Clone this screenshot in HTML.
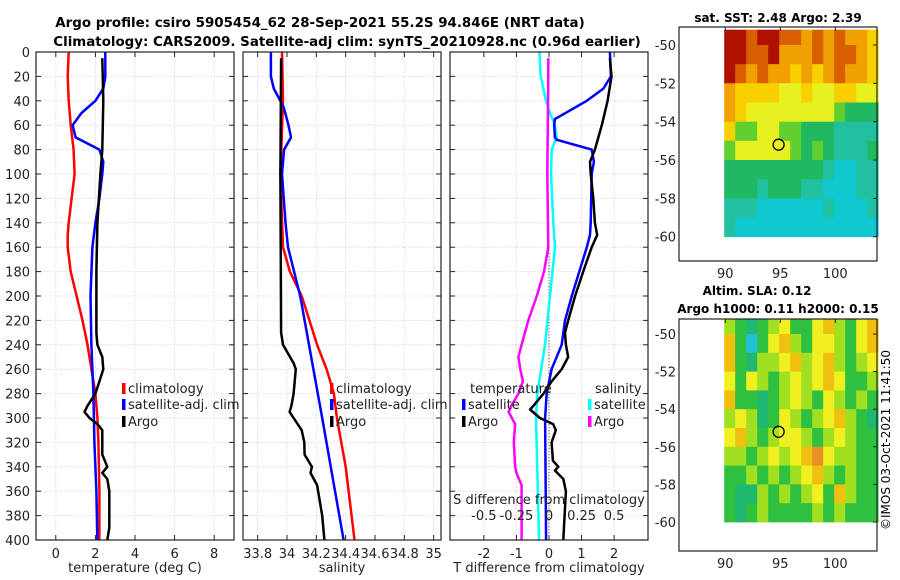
<!DOCTYPE html>
<html><head><meta charset="utf-8">
<style>
html,body{margin:0;padding:0;background:#fff;}
svg{display:block;font-family:"DejaVu Sans","Liberation Sans",sans-serif;}
</style></head>
<body>
<svg id="chart" width="900" height="580" viewBox="0 0 900 580" xmlns="http://www.w3.org/2000/svg">
<text x="320" y="27" text-anchor="middle" font-size="13.4" font-weight="bold">Argo profile: csiro 5905454_62 28-Sep-2021 55.2S 94.846E (NRT data)</text>
<text x="347" y="46" text-anchor="middle" font-size="13.4" font-weight="bold">Climatology: CARS2009. Satellite-adj clim: synTS_20210928.nc (0.96d earlier)</text>
<g id="layer"></g>
<text x="778" y="22" text-anchor="middle" font-size="12" font-weight="bold">sat. SST: 2.48 Argo: 2.39</text>
<text x="757" y="295" text-anchor="middle" font-size="12" font-weight="bold">Altim. SLA: 0.12</text>
<text x="778" y="313" text-anchor="middle" font-size="12" font-weight="bold">Argo h1000: 0.11 h2000: 0.15</text>
<text transform="translate(890,440) rotate(-90)" text-anchor="middle" font-size="12">©IMOS 03-Oct-2021 11:41:50</text>
</svg>
<script>
// ---------- data ----------
const depthTicks = [0,20,40,60,80,100,120,140,160,180,200,220,240,260,280,300,320,340,360,380,400];
const tempTicks = [0,2,4,6,8];
const salTicks = [33.8,34,34.2,34.4,34.6,34.8,35];
const salTickLabels = ["33.8","34","34.2","34.4","34.6","34.8","35"];
const tdiffTicks = [-2,-1,0,1,2];
const sdiffTicks = [-0.5,-0.25,0,0.25,0.5];
const sdiffTickLabels = ["-0.5","-0.25","0","0.25","0.5"];

const climTDepth = [0,20,40,60,80,100,120,140,150,160,180,200,220,240,260,280,300,320,360,400];
const climTVal   = [0.65,0.6,0.65,0.75,0.9,0.95,0.8,0.65,0.6,0.6,0.75,1.05,1.35,1.6,1.8,2.0,2.1,2.15,2.2,2.2];
const satTDepth = [0,20,30,40,50,60,70,80,90,100,120,140,160,200,240,280,320,360,400];
const satTVal   = [2.5,2.5,2.4,2.0,1.3,0.85,1.0,2.2,2.4,2.35,2.2,2.0,1.85,1.75,1.8,1.9,1.95,2.05,2.1];
const argoTDepth = [5,40,80,100,140,180,230,240,250,260,270,280,290,295,300,305,310,320,330,340,345,350,360,380,390,400];
const argoTVal   = [2.35,2.4,2.35,2.25,2.1,2.05,2.05,2.1,2.35,2.4,2.2,2.0,1.6,1.45,1.7,2.1,2.35,2.35,2.35,2.6,2.35,2.6,2.7,2.7,2.7,2.6];

const climSDepth = [0,40,100,160,180,200,240,260,280,300,340,400];
const climSVal   = [33.966,33.973,33.955,33.973,34.02,34.1,34.205,34.27,34.32,34.34,34.4,34.46];
const satSDepth = [0,20,30,45,60,70,80,100,140,160,200,300,400];
const satSVal   = [33.89,33.89,33.91,33.977,34.01,34.027,33.98,33.966,33.99,34.007,34.09,34.24,34.386];
const argoSDepth = [5,100,230,240,255,260,280,290,295,300,310,320,330,340,345,355,380,400];
const argoSVal   = [33.96,33.955,33.96,33.973,34.045,34.06,34.045,34.03,34.018,34.045,34.1,34.118,34.12,34.17,34.16,34.205,34.24,34.255];

const argoTdDepth = [5,20,40,60,80,90,100,120,140,150,160,180,200,220,230,240,250,260,270,280,290,293,300,305,310,320,335,340,343,350,360,400];
const argoTdVal   = [1.87,1.92,1.8,1.62,1.41,1.26,1.28,1.36,1.41,1.48,1.31,1.05,0.8,0.59,0.49,0.52,0.59,0.39,0.08,-0.17,-0.48,-0.58,-0.28,0.13,0.21,0.08,0.12,0.29,0.18,0.44,0.52,0.44];
const satTdDepth = [0,20,30,40,55,60,70,72,80,90,100,140,150,160,200,220,240,260,280,300,400];
const satTdVal   = [1.87,1.9,1.67,1.16,0.18,0.16,0.18,0.24,1.31,1.38,1.31,1.28,1.26,1.16,0.7,0.49,0.39,0.08,-0.07,-0.12,-0.09];
const satSdDepth = [0,20,40,50,60,70,80,100,140,160,200,240,280,300,400];
const satSdVal   = [-0.074,-0.064,-0.023,0.008,0.046,0.059,0.021,0.015,0.033,0.046,0.008,-0.031,-0.09,-0.10,-0.077];
const argoSdDepth = [5,20,100,160,180,200,220,240,250,260,270,280,290,295,305,320,340,345,355,400];
const argoSdVal   = [-0.005,-0.005,-0.013,-0.005,-0.038,-0.094,-0.159,-0.21,-0.235,-0.22,-0.2,-0.235,-0.29,-0.31,-0.26,-0.27,-0.26,-0.25,-0.21,-0.21];

const mapLons = [90,91,92,93,94,95,96,97,98,99,100,101,102,103];
const mapLats = [-49,-50,-51,-52,-53,-54,-55,-56,-57,-58,-59];
const lonTicks = [90,95,100];
const latTicks = [-50,-52,-54,-56,-58,-60];
const sstGrid = [
[10,10,9,10,10,9,9,8,9,8,9,8,8,7],
[10,10,9,9,10,8,8,8,9,8,9,9,8,7],
[10,9,8,9,8,8,7,8,7,8,9,8,8,7],
[8,7,7,7,7,6,6,7,6,6,7,7,6,6],
[8,7,6,6,6,6,6,6,6,6,5,4,4,4],
[7,5,5,6,6,5,5,4,4,4,3,3,3,3],
[5,6,6,6,6,6,5,4,5,4,3,3,3,4],
[4,4,4,4,4,4,4,4,4,3,2,2,3,3],
[4,4,4,3,4,4,4,3,3,2,2,2,3,3],
[3,3,3,2,2,2,2,2,2,3,2,2,2,3],
[3,2,2,2,2,2,2,2,2,2,2,2,2,2]];
const slaGrid = [
[5,4,3,4,5,6,4,4,6,7,5,4,6,7],
[7,4,2,4,6,7,5,4,6,6,5,4,6,7],
[7,4,3,5,5,6,7,5,6,7,5,4,5,6],
[6,4,6,5,4,5,6,5,6,7,6,4,4,5],
[7,4,4,3,4,5,6,5,4,6,5,4,5,4],
[5,6,5,3,4,6,5,4,5,6,7,5,4,3],
[6,7,5,4,5,6,6,5,4,5,6,5,4,4],
[5,5,4,5,6,5,6,7,8,6,5,5,4,4],
[4,4,5,4,5,4,5,6,7,5,4,5,4,4],
[4,3,3,5,4,5,4,5,6,4,7,5,4,4],
[4,3,4,5,4,4,4,4,5,4,5,4,4,4]];
const floatLon = 94.846, floatLat = -55.2;

// ---------- helpers ----------
const NS = "http://www.w3.org/2000/svg";
const layer = document.getElementById('layer');
function mk(tag, attrs, parent){const e=document.createElementNS(NS,tag);for(const k in attrs)e.setAttribute(k,attrs[k]);(parent||layer).appendChild(e);return e;}
const Y0=52, Y1=540;
const yD = d => Y0 + (d/400)*(Y1-Y0);
function lin(d0,d1,r0,r1){return v=>r0+(v-d0)/(d1-d0)*(r1-r0);}

function panel(name,x0,x1,xs,ticks,labels,showY){
  const g=mk('g',{});
  
  
  ticks.forEach(t=>{mk('line',{x1:xs(t),x2:xs(t),y1:Y0,y2:Y1,stroke:'#c5cbe6','stroke-width':0.8,'stroke-dasharray':'1,1.5'},g);});
  depthTicks.forEach(d=>{mk('line',{x1:x0,x2:x1,y1:yD(d),y2:yD(d),stroke:'#c5cbe6','stroke-width':0.8,'stroke-dasharray':'1,1.5'},g);
    mk('line',{x1:x0,x2:x0+5,y1:yD(d),y2:yD(d),stroke:'#222'},g);
    mk('line',{x1:x1-5,x2:x1,y1:yD(d),y2:yD(d),stroke:'#222'},g);
    if(showY){const t=mk('text',{x:x0-6,y:yD(d)+5,'text-anchor':'end','font-size':13,fill:'#222'},g);t.textContent=d;}
  });
  ticks.forEach((t,i)=>{mk('line',{x1:xs(t),x2:xs(t),y1:Y1,y2:Y1-5,stroke:'#222'},g);mk('line',{x1:xs(t),x2:xs(t),y1:Y0,y2:Y0+5,stroke:'#222'},g);
    if(labels){const tx=mk('text',{x:xs(t),y:Y1+18,'text-anchor':'middle','font-size':13,fill:'#222'},g);tx.textContent=labels[i];}});
  return g;
}
function line(name,g,xs,xv,dv,color,w){
  const p=xv.map((v,i)=>xs(v).toFixed(1)+','+yD(dv[i]).toFixed(1)).join(' ');
  const e=mk('polyline',{points:p,fill:'none',stroke:color,'stroke-width':w||2.5,'stroke-linejoin':'round'},g);
  
  
}
function legendEntry(name,g,x,y,color,label){
  const gg=mk('g',{},g);
  
  
  mk('rect',{x:x,y:y-10,width:3.5,height:11,fill:color},gg);
  const t=mk('text',{x:x+6,y:y,'font-size':13,fill:'#222'},gg);t.textContent=label;
}
function box(g,x0,x1,y0,y1){mk('rect',{x:x0,y:y0,width:x1-x0,height:y1-y0,fill:'none',stroke:'#222','stroke-width':1.2},g);}

// ---------- panel 1: temperature ----------
const xT = lin(-1,9,36,234);
const g1 = panel('temperature-panel',36,234,xT,tempTicks,tempTicks.map(String),true);
line('temp-climatology-line',g1,xT,climTVal,climTDepth,'#ff0000');
line('temp-satellite-line',g1,xT,satTVal,satTDepth,'#0000ff');
line('temp-argo-line',g1,xT,argoTVal,argoTDepth,'#000');
box(g1,36,234,Y0,Y1);
legendEntry('legend-climatology',g1,122,393,'#ff0000','climatology');
legendEntry('legend-satellite-adj',g1,122,409,'#0000ff','satellite-adj. clim');
legendEntry('legend-argo',g1,122,426,'#000','Argo');
let t1=mk('text',{x:135,y:572,'text-anchor':'middle','font-size':13,fill:'#222'},g1);t1.textContent='temperature (deg C)';


// ---------- panel 2: salinity ----------
const xS = lin(33.7,35.05,243,441);
const g2 = panel('salinity-panel',243,441,xS,salTicks,salTickLabels,false);
line('sal-climatology-line',g2,xS,climSVal,climSDepth,'#ff0000');
line('sal-satellite-line',g2,xS,satSVal,satSDepth,'#0000ff');
line('sal-argo-line',g2,xS,argoSVal,argoSDepth,'#000');
box(g2,243,441,Y0,Y1);
legendEntry('legend-climatology-sal',g2,330,393,'#ff0000','climatology');
legendEntry('legend-satellite-adj-sal',g2,330,409,'#0000ff','satellite-adj. clim');
legendEntry('legend-argo-sal',g2,330,426,'#000','Argo');
let t2=mk('text',{x:342,y:572,'text-anchor':'middle','font-size':13,fill:'#222'},g2);t2.textContent='salinity';


// ---------- panel 3: differences ----------
const xTd = lin(-3.04,3.04,450,648);
const xSd = lin(-0.76,0.76,450,648);
const g3 = panel('difference-panel',450,648,xTd,tdiffTicks,tdiffTicks.map(String),false);
mk('line',{x1:xTd(0),x2:xTd(0),y1:yD(160),y2:Y1,stroke:'#333','stroke-width':1,'stroke-dasharray':'1,2'},g3);
line('sdiff-satellite-line',g3,xSd,satSdVal,satSdDepth,'#00ffff');
line('sdiff-argo-line',g3,xSd,argoSdVal,argoSdDepth,'#ff00ff');
line('tdiff-satellite-line',g3,xTd,satTdVal,satTdDepth,'#0000ff');
line('tdiff-argo-line',g3,xTd,argoTdVal,argoTdDepth,'#000');
box(g3,450,648,Y0,Y1);
let th=mk('text',{x:470,y:393,'font-size':13,fill:'#222'},g3);th.textContent='temperature';

let sh=mk('text',{x:595,y:393,'font-size':13,fill:'#222'},g3);sh.textContent='salinity';

legendEntry('legend-tdiff-satellite',g3,462,409,'#0000ff','satellite');
legendEntry('legend-tdiff-argo',g3,462,426,'#000','Argo');
legendEntry('legend-sdiff-satellite',g3,588,409,'#00ffff','satellite');
legendEntry('legend-sdiff-argo',g3,588,426,'#ff00ff','Argo');
let st=mk('text',{x:549,y:504,'text-anchor':'middle','font-size':13,fill:'#222'},g3);st.textContent='S difference from climatology';

sdiffTicks.forEach((v,i)=>{const t=mk('text',{x:xSd(v),y:520,'text-anchor':'middle','font-size':13,fill:'#222'},g3);t.textContent=sdiffTickLabels[i];
  });
let tt=mk('text',{x:549,y:572,'text-anchor':'middle','font-size':13,fill:'#222'},g3);tt.textContent='T difference from climatology';


// ---------- maps ----------
function sstColor(v){const c=['#00c8f0','#00d0e0','#10c8d0','#20c0a0','#20b860','#60d030','#e8f020','#f8d000','#f0a000','#d86000','#b01000'];return c[Math.max(0,Math.min(10,v))];}
function slaColor(v){const c=['#00c8f0','#00c8f0','#20c0d8','#20b870','#30c040','#a0e020','#f0f020','#f0c010','#e89020','#e89020','#e89020'];return c[Math.max(0,Math.min(10,v))];}
function drawMap(name,ax0,ax1,ay0,ay1,lonS,latS,grid,colorFn){
  const g=mk('g',{});
  
  
  grid.forEach((row,r)=>row.forEach((v,c)=>{
    const x=lonS(mapLons[c]-0.1), w=lonS(mapLons[c]+1)-lonS(mapLons[c]);
    const lat0=Math.min(mapLats[r],-49.2);
    const yy=latS(lat0);
    const hh=latS(mapLats[r]-1)-yy;
    mk('rect',{x:x.toFixed(1),y:yy.toFixed(1),width:(w+0.4).toFixed(1),height:(hh+0.4).toFixed(1),fill:colorFn(v)},g);
  }));
  mk('circle',{cx:lonS(floatLon),cy:latS(floatLat),r:5.5,fill:'none',stroke:'#000','stroke-width':1.3},g);
  box(g,ax0,ax1,ay0,ay1);
  latTicks.forEach(t=>{mk('line',{x1:ax1-4,x2:ax1,y1:latS(t),y2:latS(t),stroke:'#222'},g);
    const tx=mk('text',{x:ax0-3,y:latS(t)+5,'text-anchor':'end','font-size':13,fill:'#222'},g);tx.textContent=t;});
  lonTicks.forEach(t=>{mk('line',{x1:lonS(t),x2:lonS(t),y1:ay0,y2:ay0+4,stroke:'#222'},g);
    const tx=mk('text',{x:lonS(t),y:ay1+17,'text-anchor':'middle','font-size':13,fill:'#222'},g);tx.textContent=t;});
}
const lonS = lin(90,100,725.3,835.3);
const latTop = lin(-50,-60,45,236.7);
const latBot = lin(-50,-60,334,522);
drawMap('sst-map',679,877,27,261,lonS,latTop,sstGrid,sstColor);
drawMap('sla-map',679,877,319,551,lonS,latBot,slaGrid,slaColor);
</script>
</body></html>
